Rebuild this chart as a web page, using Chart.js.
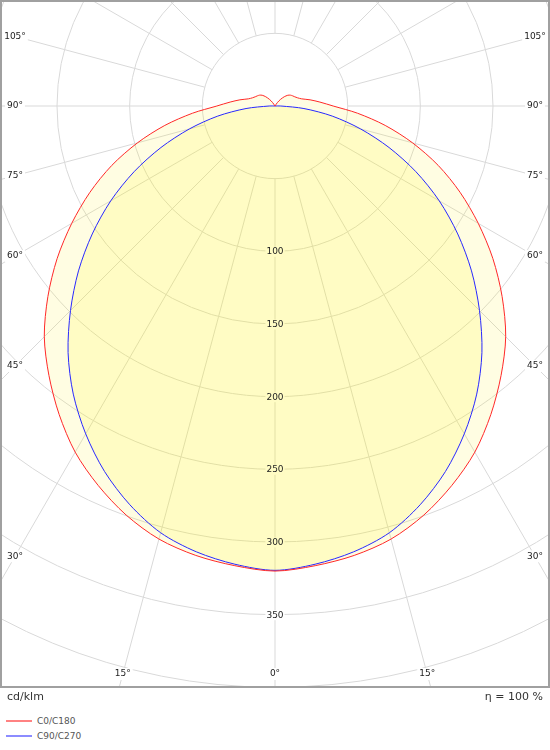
<!DOCTYPE html>
<html>
<head>
<meta charset="utf-8">
<script src="https://cdn.jsdelivr.net/npm/chart.js@4.4.1/dist/chart.umd.min.js"></script>
<style>
  html, body { margin:0; padding:0; background:#fff; width:550px; height:750px; overflow:hidden;
    font-family:"DejaVu Sans", Verdana, sans-serif; }
  #frame { position:absolute; left:0; top:0; width:550px; height:688px; overflow:hidden; background:#fff; }
  #border { position:absolute; left:0; top:0; width:546px; height:684px; border:2px solid #a0a0a0; pointer-events:none; }
  #polar { position:absolute; left:0; top:0; }
  .txt { position:absolute; font-size:11px; color:#333; line-height:14px; white-space:nowrap; }
  .leg { position:absolute; left:6px; font-size:9px; color:#555; line-height:12px; white-space:nowrap; }
  .leg i { display:inline-block; width:26px; height:2px; vertical-align:middle; margin-right:5px; position:relative; top:-1px; }
</style>
</head>
<body>
<div id="frame"><canvas id="polar" width="1308" height="1308"></canvas></div>
<div id="border"></div>
<div class="txt" style="left:7px; top:690px;">cd/klm</div>
<div class="txt" style="right:7px; top:690px;">η = 100 %</div>
<div class="leg" style="top:715px;"><i id="legA"></i><span id="legAt"></span></div>
<div class="leg" style="top:730px;"><i id="legB"></i><span id="legBt"></span></div>
<script>
// ---- data (cd/klm), gamma from 0° (nadir) to 180°, step 5° ----
const gammaDeg = [0,5,10,15,20,25,30,35,40,45,50,55,60,65,70,75,80,85,90,95,100,105,110,115,120,125,130,135,140,145,150,155,160,165,170,175,180];
const c0c180 = [320,317.5,314,308.5,299.5,288,275,259,242,224.5,204,183,161.5,140.5,119.5,98,77,57,40,31,24.5,19,16.5,15,14,13,11.5,9,6,3,0,0,0,0,0,0,0];
const c90c270 = [319.5,316.5,311.5,304,292,277.5,260.5,242,221.5,199,176.5,153.5,130.5,107,83.5,61,40,20,4,0,0,0,0,0,0,0,0,0,0,0,0,0,0,0,0,0,0];
const seriesNames = ['C0/C180','C90/C270'];
const ringValues = [50,100,150,200,250,300,350,400];
const ringLabels = [100,150,200,250,300,350];
const angleLabels = [0,15,30,45,60,75,90,105];

const CENTER = {x:275, y:106};
const BOX = {left:15, right:535, bottom:674};

// full circle: index i -> left side gamma = 5i (i<=36), right side gamma = 360-5i
function fullCircle(half) {
  const out = [];
  for (let i = 0; i < 72; i++) out.push(i <= 36 ? half[i] : half[72 - i]);
  return out;
}
const labels = [];
for (let i = 0; i < 72; i++) labels.push(String(i <= 36 ? gammaDeg[i] : gammaDeg[72 - i]));

const redLine = 'rgb(255,40,40)', blueLine = 'rgb(40,40,255)';
const redFill = [255,235,20,0.12], blueFill = [255,250,0,0.137];
const rgba = c => `rgba(${c[0]},${c[1]},${c[2]},${c[3]})`;
function over(base, f) { return base.map((b,k) => b*(1-f[3]) + f[k]*f[3]); }
const white = [255,255,255];
const paleCol = over(white, redFill);
const insideCol = over(over(white, blueFill), redFill);
const colStr = c => `rgb(${Math.round(c[0])},${Math.round(c[1])},${Math.round(c[2])})`;
function regionColor(v) {
  const inRed = v < c0c180[0], inBlue = v < c90c270[0];
  if (inRed && inBlue) return colStr(insideCol);
  if (inRed) return colStr(paleCol);
  if (inBlue) return colStr(over(white, blueFill));
  return '#fff';
}

const gridCol = '#d9d9d9';
const FONT = '"DejaVu Sans", Verdana, sans-serif';

const overlay = {
  id: 'overlay',
  afterDraw(chart) {
    const sc = chart.scales.r, ctx = chart.ctx;
    const cx = sc.xCenter, cy = sc.yCenter;
    const tx = px => px - CENTER.x + cx, ty = py => py - CENTER.y + cy;
    ctx.save();
    ctx.font = '9px ' + FONT;
    ctx.textAlign = 'center';
    ctx.textBaseline = 'middle';
    // ring value labels along the 0° axis
    ringLabels.forEach(v => {
      const d = sc.getDistanceFromCenterForValue(v);
      const y = cy + d + 0.5;
      const s = String(v);
      const w = ctx.measureText(s).width + 2;
      ctx.fillStyle = regionColor(v);
      ctx.fillRect(cx - w/2, y - 5, w, 10);
      ctx.fillStyle = '#222';
      ctx.fillText(s, cx, y);
    });
    // angle labels where the rays meet the frame
    const n = chart.data.labels.length, step = 360 / n;
    angleLabels.forEach(g => {
      [-1, 1].forEach(side => {
        if (g === 0 && side === 1) return;
        const idx = side < 0 ? g / step : (n - g / step) % n;
        const p = sc.getPointPosition(idx, 100);
        const dx = (p.x - cx) / 100, dy = (p.y - cy) / 100;
        let t = Infinity;
        if (Math.abs(dx) > 1e-6) t = Math.min(t, (dx < 0 ? cx - tx(BOX.left) : tx(BOX.right) - cx) / Math.abs(dx));
        if (dy > 1e-6) t = Math.min(t, (ty(BOX.bottom) - cy) / dy);
        const x = cx + dx * t, y = cy + dy * t;
        const s = g + '°';
        const w = ctx.measureText(s).width + 4;
        ctx.fillStyle = '#fff';
        ctx.fillRect(x - w/2, y - 6, w, 12);
        ctx.fillStyle = '#222';
        ctx.fillText(s, x, y);
      });
    });
    ctx.restore();
  }
};

const canvas = document.getElementById('polar');
const chart = new Chart(canvas, {
  type: 'radar',
  data: {
    labels: labels,
    datasets: [
      { label: seriesNames[0], data: fullCircle(c0c180), borderColor: redLine, backgroundColor: rgba(redFill),
        fill: 'origin', borderWidth: 1, pointRadius: 0, tension: 0.3 },
      { label: seriesNames[1], data: fullCircle(c90c270), borderColor: blueLine, backgroundColor: rgba(blueFill),
        fill: 'origin', borderWidth: 1, pointRadius: 0, tension: 0.3 }
    ]
  },
  options: {
    responsive: false,
    animation: false,
    events: [],
    layout: { padding: 0 },
    plugins: {
      legend: { display: false },
      tooltip: { enabled: false },
      filler: { propagate: false, drawTime: 'beforeDatasetsDraw' }
    },
    scales: {
      r: {
        min: 0, max: 450, startAngle: 180,
        ticks: { display: false, stepSize: 50 },
        pointLabels: { display: false },
        grid: { circular: true, lineWidth: 1,
          color: c => (c.tick && ringValues.includes(c.tick.value)) ? gridCol : 'rgba(0,0,0,0)' },
        angleLines: {
          display: true,
          color: gridCol,
          lineWidth: c => (c.index % 3 === 0 ? 1 : 0),
          borderDash: [3000, 3000],
          borderDashOffset: c => 6000 - c.scale.getDistanceFromCenterForValue(ringValues[0])
        }
      }
    }
  },
  plugins: [overlay]
});

const sc = chart.scales.r;
canvas.style.left = (CENTER.x - sc.xCenter) + 'px';
canvas.style.top = (CENTER.y - sc.yCenter) + 'px';

// HTML legend from the dataset styles
const legColors = ['rgb(255,130,130)', 'rgb(140,140,255)'];
document.getElementById('legA').style.background = legColors[0];
document.getElementById('legB').style.background = legColors[1];
document.getElementById('legAt').textContent = seriesNames[0];
document.getElementById('legBt').textContent = seriesNames[1];
</script>
</body>
</html>
